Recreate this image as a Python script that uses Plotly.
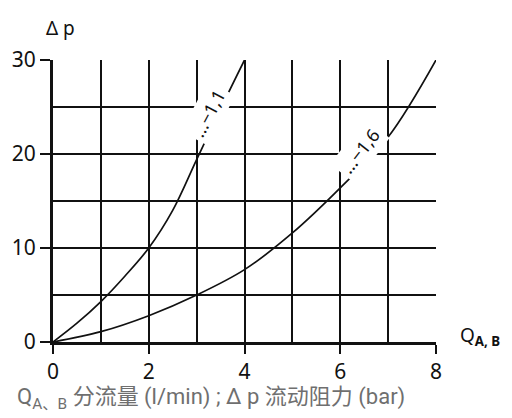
import plotly.graph_objects as go

# Flow rate Q (l/min) and pressure drop Δp (bar) for the two characteristic curves
q_11 = [0, 0.5, 1, 1.5, 2, 2.5, 3, 3.5, 4]
dp_11 = [0, 2.0, 4.3, 7.0, 10, 14.0, 19.4, 24.8, 30]

q_16 = [0, 1, 2, 3, 4, 5, 6, 7, 8]
dp_16 = [0, 1.1, 2.8, 5.0, 7.7, 11.6, 16.4, 21.8, 30]

x_ticks = [0, 2, 4, 6, 8]
y_ticks = [0, 10, 20, 30]

curve_labels = ["...−1,1", "...−1,6"]

INK = "#111111"
SANS = "Noto Sans, DejaVu Sans, sans-serif"
TICK_FONT = dict(family=SANS, size=21, color=INK)

fig = go.Figure()
for q, dp in ((q_11, dp_11), (q_16, dp_16)):
    fig.add_trace(go.Scatter(
        x=q, y=dp, mode="lines",
        line=dict(color=INK, width=1.7, shape="spline", smoothing=1.0),
        showlegend=False, hoverinfo="skip",
    ))

# Curve labels with white boxes that break the grid underneath
for text, (x, y, ang) in zip(curve_labels, [(3.23, 24.3, -62), (6.41, 20.3, -52)]):
    fig.add_annotation(
        x=x, y=y, text=text, showarrow=False, textangle=ang,
        font=dict(family=SANS, size=18, color=INK),
        bgcolor="white", borderpad=3,
    )

fig.add_annotation(
    xref="paper", yref="paper", x=0.02, y=1.115, xanchor="center", yanchor="middle",
    text="Δ p", showarrow=False,
    font=dict(family=SANS, size=19, color=INK),
)
fig.add_annotation(
    xref="paper", yref="paper", x=1.058, y=0.02, xanchor="left", yanchor="middle",
    text="Q<sub><b>A, B</b></sub>", showarrow=False,
    font=dict(family=SANS, size=19, color=INK),
)
fig.add_annotation(
    xref="paper", yref="paper", x=-0.098, y=-0.2, xanchor="left", yanchor="middle",
    text="Q<sub>A、B</sub> 分流量 (l/min) ; Δ p 流动阻力 (bar)", showarrow=False,
    font=dict(family="Roboto, Noto Sans CJK SC, sans-serif", size=22, color="#6f6f6f"),
)

GRID = dict(showgrid=True, gridcolor=INK, gridwidth=1.5)

fig.update_xaxes(
    range=[0, 8], tickvals=x_ticks, ticktext=[str(v) for v in x_ticks],
    ticks="outside", ticklen=9, tickwidth=2, tickcolor=INK,
    tickfont=TICK_FONT, showline=True, linewidth=3, linecolor=INK,
    zeroline=False, **GRID,
    minor=dict(dtick=1, tick0=0, ticks="", **GRID),
)
fig.update_yaxes(
    range=[0, 30], tickvals=y_ticks, ticktext=[str(v) for v in y_ticks],
    ticks="outside", ticklen=10, tickwidth=2, tickcolor=INK,
    tickfont=TICK_FONT, showline=True, linewidth=3, linecolor=INK,
    zeroline=False, **GRID,
    minor=dict(dtick=5, tick0=0, ticks="", **GRID),
)

fig.update_layout(
    width=512, height=418,
    margin=dict(l=48, r=76, t=60, b=76),
    paper_bgcolor="white", plot_bgcolor="white",
)

fig.write_html("out.html")
